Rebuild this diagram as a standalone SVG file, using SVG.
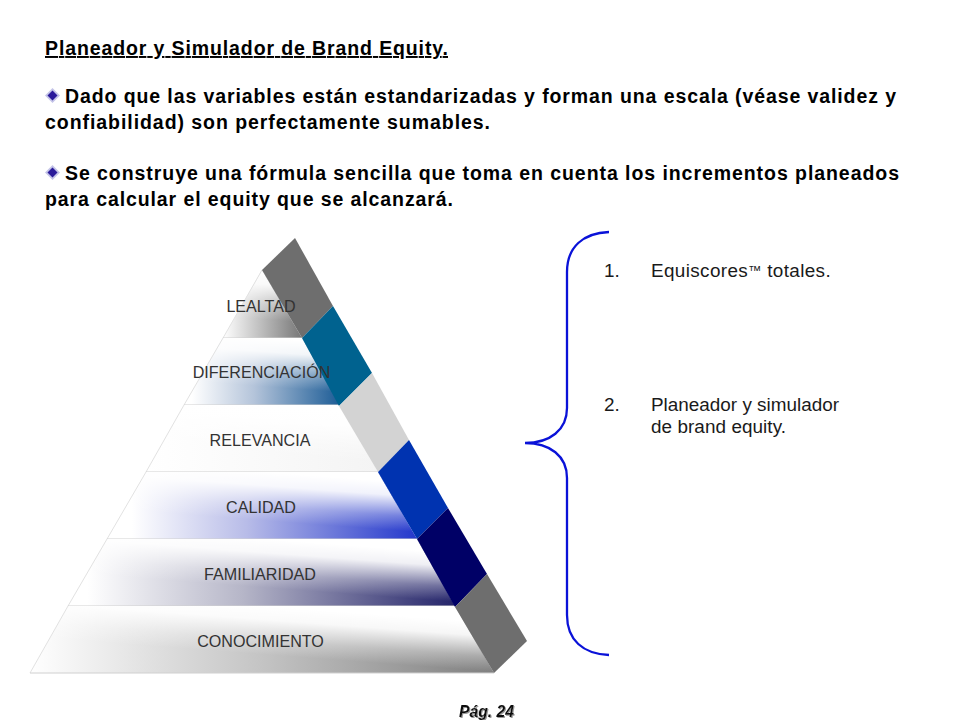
<svg xmlns="http://www.w3.org/2000/svg" xmlns:xlink="http://www.w3.org/1999/xlink" width="960" height="720" viewBox="0 0 960 720">
<style>
text{font-family:"Liberation Sans",Arial,sans-serif}
.h{font-size:19.5px;font-weight:700;fill:#000}
.t{font-size:18.9px;fill:#1a1a1a}
.l{font-size:16.1px;fill:#333;text-anchor:middle}
.e{stroke:#e2e2e2;stroke-width:1}
.b{stroke:#d0d0d0;stroke-width:1;fill:none}
.do{fill:#c4c4e8}
.di{fill:#2a1a9a}
</style>
<defs>
<linearGradient id="w" gradientUnits="userSpaceOnUse" x1="263" y1="0" x2="258" y2="67"><stop offset="0" stop-color="#fff"/><stop offset=".2" stop-color="#fff" stop-opacity=".92"/><stop offset=".5" stop-color="#fff" stop-opacity=".32"/><stop offset=".72" stop-color="#fff" stop-opacity="0"/></linearGradient>
<linearGradient id="w1" xlink:href="#w" gradientTransform="translate(0,271)"/>
<linearGradient id="w2" xlink:href="#w" gradientTransform="translate(0,338)"/>
<linearGradient id="w3" xlink:href="#w" gradientTransform="translate(0,405)"/>
<linearGradient id="w4" xlink:href="#w" gradientTransform="translate(0,472)"/>
<linearGradient id="w5" xlink:href="#w" gradientTransform="translate(0,539)"/>
<linearGradient id="w6" xlink:href="#w" gradientTransform="translate(0,606)"/>
<linearGradient id="c1"><stop offset="0" stop-color="#fff"/><stop offset="1" stop-color="#777"/></linearGradient>
<linearGradient id="c2"><stop offset=".05" stop-color="#fff"/><stop offset=".45" stop-color="#b4c4da"/><stop offset="1" stop-color="#1c5c96"/></linearGradient>
<linearGradient id="c3"><stop offset="0" stop-color="#fff"/><stop offset="1" stop-color="#f4f4f4"/></linearGradient>
<linearGradient id="c4"><stop offset=".08" stop-color="#fff"/><stop offset=".45" stop-color="#b8bce8"/><stop offset="1" stop-color="#2438cc"/></linearGradient>
<linearGradient id="c5"><stop offset=".05" stop-color="#fff"/><stop offset=".45" stop-color="#b6b6c8"/><stop offset="1" stop-color="#24246a"/></linearGradient>
<linearGradient id="c6"><stop offset="0" stop-color="#fff"/><stop offset=".5" stop-color="#c4c4c4"/><stop offset="1" stop-color="#808080"/></linearGradient>
<filter id="sh" x="-10%" y="-20%" width="120%" height="150%"><feDropShadow dx="1" dy="1" stdDeviation=".6" flood-color="#999"/></filter>
</defs>

<g id="heading">
<text class="h" x="45" y="55" text-decoration="underline" textLength="403" lengthAdjust="spacing">Planeador y Simulador de Brand Equity.</text>
</g>
<g id="para1">
<path class="do" d="M52.500 88l7.500 7.500-7.500 7.500-7.500-7.500z"/><path class="di" d="M52.500 90.500l5 5-5 5-5-5z"/>
<text class="h" x="65" y="103" textLength="831" lengthAdjust="spacing">Dado que las variables están estandarizadas y forman una escala (véase validez y</text>
<text class="h" x="45" y="129" textLength="445" lengthAdjust="spacing">confiabilidad) son perfectamente sumables.</text>
</g>
<g id="para2">
<path class="do" d="M52.500 165l7.500 7.500-7.500 7.500-7.500-7.500z"/><path class="di" d="M52.500 167.500l5 5-5 5-5-5z"/>
<text class="h" x="65" y="180" textLength="834" lengthAdjust="spacing">Se construye una fórmula sencilla que toma en cuenta los incrementos planeados</text>
<text class="h" x="45" y="206" textLength="408" lengthAdjust="spacing">para calcular el equity que se alcanzará.</text>
</g>

<g id="tier-lealtad">
<path d="M262 270L302 338H223z" fill="url(#c1)"/><path d="M262 270L302 338H223z" fill="url(#w1)"/>
<path class="e" d="M262 270L223 338" fill="none"/><path class="b" d="M223 338H302"/>
</g>
<g id="tier-diferenciacion">
<path d="M223 338H302L340 405H184z" fill="url(#c2)"/><path d="M223 338H302L340 405H184z" fill="url(#w2)"/>
<path class="e" d="M223 338L184 405"/><path class="b" d="M184 405H340"/>
</g>
<g id="tier-relevancia">
<path d="M184 405H340L378 472H146z" fill="url(#c3)"/><path d="M184 405H340L378 472H146z" fill="url(#w3)"/>
<path class="e" d="M184 405L146 472"/><path class="b" d="M146 472H378"/>
</g>
<g id="tier-calidad">
<path d="M146 472H378L417 539H107z" fill="url(#c4)"/><path d="M146 472H378L417 539H107z" fill="url(#w4)"/>
<path class="e" d="M146 472L107 539"/><path class="b" d="M107 539H417"/>
</g>
<g id="tier-familiaridad">
<path d="M107 539H417L455 606H68z" fill="url(#c5)"/><path d="M107 539H417L455 606H68z" fill="url(#w5)"/>
<path class="e" d="M107 539L68 606"/><path class="b" d="M68 606H455"/>
</g>
<g id="tier-conocimiento">
<path d="M68 606H455L494 673H30z" fill="url(#c6)"/><path d="M68 606H455L494 673H30z" fill="url(#w6)"/>
<path class="e" d="M68 606L30 673"/><path class="b" d="M30 673H494"/>
</g>

<g id="side-bands">
<path d="M295 238L333 306L302 338L262 270z" fill="#6e6e6e"/>
<path d="M333 306L372 373L339 406L302 338z" fill="#00628f"/>
<path d="M372 373L409 440L378 472L339 406z" fill="#d3d3d3"/>
<path d="M409 440L448 508L417 539L378 472z" fill="#0033b0"/>
<path d="M448 508L487 574L455 607L417 539z" fill="#000066"/>
<path d="M487 574L527 641L494 673L455 607z" fill="#6e6e6e"/>
</g>

<g id="tier-labels">
<text class="l" x="261" y="312">LEALTAD</text>
<text class="l" x="261.500" y="378">DIFERENCIACIÓN</text>
<text class="l" x="260" y="446">RELEVANCIA</text>
<text class="l" x="261" y="513">CALIDAD</text>
<text class="l" x="260" y="580">FAMILIARIDAD</text>
<text class="l" x="260.500" y="647">CONOCIMIENTO</text>
</g>

<g id="connectors">
<path id="brace" d="M609 232C583 233 567 247 567 272V408C567 430 550 443 525 443C550 443 567 456 567 478V615C567 640 583 654 609 655" fill="none" stroke="#0a12d8" stroke-width="2.300"/>
</g>

<g id="list-1">
<text class="t" x="604" y="277">1.</text>
<text class="t" x="651" y="277" letter-spacing=".37">Equiscores<tspan font-size="13" dy="-2">™</tspan><tspan dy="2"> totales.</tspan></text>
</g>
<g id="list-2">
<text class="t" x="604" y="411">2.</text>
<text class="t" x="651" y="411" textLength="188" lengthAdjust="spacing">Planeador y simulador</text>
<text class="t" x="651" y="433" textLength="135" lengthAdjust="spacing">de brand equity.</text>
</g>
<g id="page">
<text x="459" y="717" font-size="15.700" font-weight="700" font-style="italic" fill="#111" filter="url(#sh)">Pág. 24</text>
</g>
</svg>
